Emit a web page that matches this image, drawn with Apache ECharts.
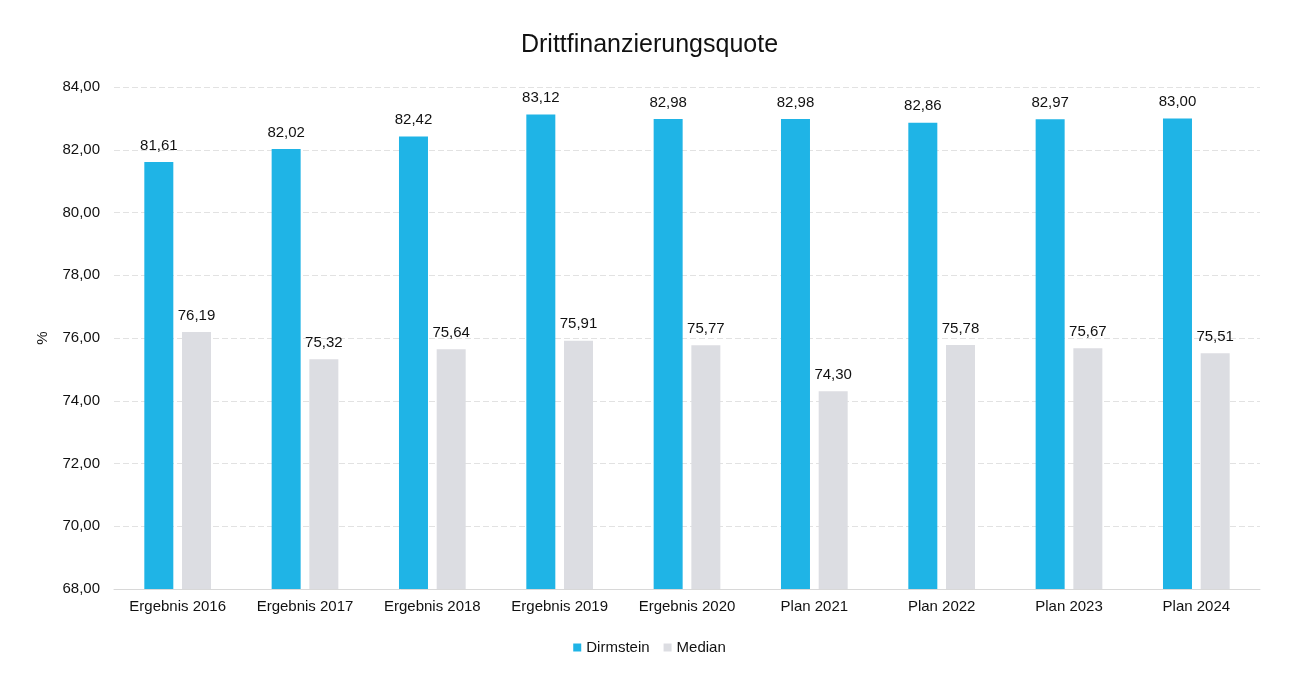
<!DOCTYPE html>
<html>
<head>
<meta charset="utf-8">
<script src="https://cdn.jsdelivr.net/npm/echarts@6/dist/echarts.min.js"></script>
<style>html,body{margin:0;padding:0;background:#fff;}#c{width:1299px;height:674px;}</style>
</head>
<body>
<div id="c"></div>
<script>
const categories = ['Ergebnis 2016','Ergebnis 2017','Ergebnis 2018','Ergebnis 2019','Ergebnis 2020','Plan 2021','Plan 2022','Plan 2023','Plan 2024'];
const dirmstein = [81.61, 82.02, 82.42, 83.12, 82.98, 82.98, 82.86, 82.97, 83.00];
const median = [76.19, 75.32, 75.64, 75.91, 75.77, 74.30, 75.78, 75.67, 75.51];
const fmt = v => v.toFixed(2).replace('.', ',');
const chart = echarts.init(document.getElementById('c'));
const font = 'Liberation Sans, Arial, sans-serif';
const label = {show:true, position:'top', distance:9, color:'#111', fontSize:15, fontFamily:font, formatter:p=>fmt(p.value)};
chart.setOption({
  backgroundColor:'#fff',
  title:{text:'Drittfinanzierungsquote', left:'center', top:28, textStyle:{fontFamily:font, fontSize:25, fontWeight:'normal', color:'#111'}},
  legend:{bottom:14, left:'center', itemWidth:8, itemHeight:8, itemGap:14, icon:'rect', textStyle:{fontFamily:font, fontSize:15, color:'#111'}, data:['Dirmstein','Median']},
  grid:{left:114, right:39, top:87, bottom:85, containLabel:false},
  xAxis:{type:'category', data:categories, axisTick:{show:false}, axisLine:{lineStyle:{color:'#d8d8d8'}}, axisLabel:{color:'#111', fontSize:15, fontFamily:font, margin:10}},
  yAxis:{type:'value', min:68, max:84, interval:2, name:'%', nameLocation:'middle', nameGap:64, nameRotate:90, nameTextStyle:{color:'#111', fontSize:15, fontFamily:font},
    axisLabel:{formatter:v=>fmt(v), color:'#111', fontSize:15, fontFamily:font, margin:14},
    splitLine:{lineStyle:{color:'#e2e2e2', type:[6,3]}}, axisLine:{show:false}, axisTick:{show:false}},
  series:[
    {name:'Dirmstein', type:'bar', data:dirmstein, barWidth:29, barGap:'30%', itemStyle:{color:'#1fb4e6'}, label:label},
    {name:'Median', type:'bar', data:median, barWidth:29, itemStyle:{color:'#dcdde2'}, label:label}
  ]
});
</script>
</body>
</html>
